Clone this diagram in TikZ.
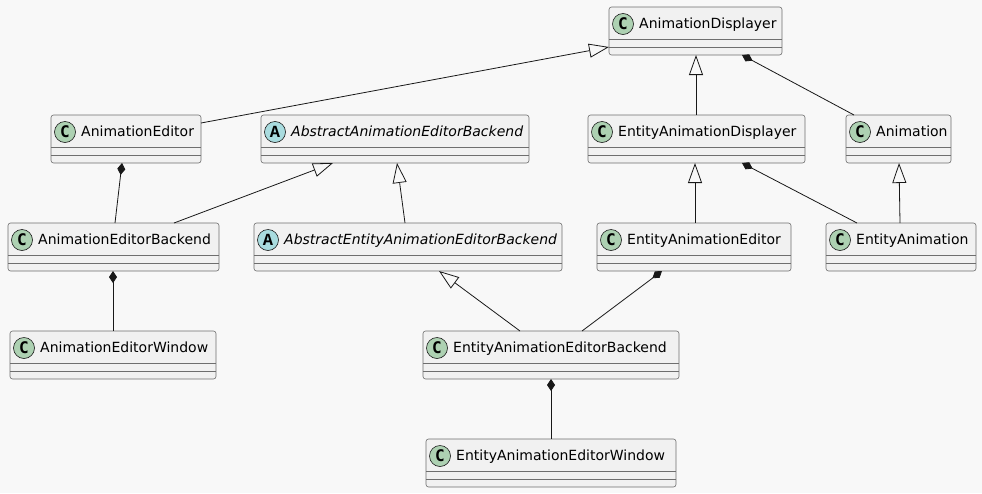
\documentclass[tikz,border=0pt]{standalone}
\usepackage{fontspec}
\setmainfont{DejaVu Sans}
\newfontfamily\cletterfont{DejaVu Sans Mono}
\newfontfamily\aletterfont{Liberation Mono}
\usetikzlibrary{arrows.meta,calc}
\definecolor{bgcol}{HTML}{F8F8F8}
\definecolor{boxfill}{HTML}{F1F1F1}
\definecolor{ink}{HTML}{181818}
\definecolor{frame}{HTML}{6E6E6E}
\definecolor{ccircle}{HTML}{ADD1B2}
\definecolor{acircle}{HTML}{A9DCDF}
\tikzset{
  clsbox/.style={draw=frame, fill=boxfill, line width=0.6pt, rounded corners=2.5pt,
    rectangle, anchor=north west, inner sep=0pt, outer sep=0pt, minimum height=48pt},
  sepline/.style={draw=frame, line width=0.6pt},
  cicon/.style={circle, draw=ink, line width=0.6pt, fill=ccircle, minimum size=21pt,
    inner sep=0pt, font=\cletterfont\bfseries\fontsize{16pt}{16pt}\selectfont},
  aicon/.style={circle, draw=ink, line width=0.6pt, fill=acircle, minimum size=21pt,
    inner sep=0pt, font=\aletterfont\bfseries\fontsize{17pt}{17pt}\selectfont},
  clsname/.style={anchor=base west, inner sep=0pt, text=black,
    font=\fontsize{14pt}{16pt}\selectfont},
  inh/.style={draw=ink, line width=0.8pt, -{Triangle[open,length=20pt,width=14pt]}},
  comp/.style={draw=ink, line width=0.8pt, {Diamond[length=12pt,width=8pt,fill=ink]}-},
}
\newcommand\umlclass[7]{%
  \node[clsbox, minimum width=#4pt] (#1) at (#2,#3) {};
  \draw[sepline] ([yshift=-32pt]#1.north west) -- ([yshift=-32pt]#1.north east);
  \draw[sepline] ([yshift=-40pt]#1.north west) -- ([yshift=-40pt]#1.north east);
  \node[#5] (#1-icon) at ([xshift=14pt,yshift=-17pt]#1.north west) {#6};
  \node[clsname] (#1-name) at ([xshift=30pt,yshift=-21.3pt]#1.north west) {#7};
}
\begin{document}
\begin{tikzpicture}[x=1pt,y=-1pt]
  \fill[bgcol] (0,0) rectangle (982,493);
  \useasboundingbox (0,0) rectangle (982,493);

  \umlclass{ad}{609}{7}{173}{cicon}{C}{AnimationDisplayer}
  \umlclass{ae}{51}{115}{150}{cicon}{C}{AnimationEditor}
  \umlclass{aaeb}{261}{115}{268}{aicon}{A}{\itshape AbstractAnimationEditorBackend}
  \umlclass{ead}{588}{115}{217}{cicon}{C}{EntityAnimationDisplayer}
  \umlclass{an}{846}{115}{105}{cicon}{C}{Animation}
  \umlclass{aeb}{8}{223}{211}{cicon}{C}{AnimationEditorBackend}
  \umlclass{aeaeb}{254}{223}{308}{aicon}{A}{\itshape AbstractEntityAnimationEditorBackend}
  \umlclass{eae}{597}{223}{194}{cicon}{C}{EntityAnimationEditor}
  \umlclass{ea}{826}{223}{150}{cicon}{C}{EntityAnimation}
  \umlclass{aew}{10}{331}{206}{cicon}{C}{AnimationEditorWindow}
  \umlclass{eaeb}{423}{331}{256}{cicon}{C}{EntityAnimationEditorBackend}
  \umlclass{eaew}{426}{439}{250}{cicon}{C}{EntityAnimationEditorWindow}

  % inheritance
  \draw[inh] ($(ae.north west)+(150,8)$) -- ($(ad.south west)+(0,-8)$);
  \draw[inh] ($(ead.north west)+(108,0)$) -- ($(ad.south west)+(87,0)$);
  \draw[inh] ($(aeb.north west)+(166,0)$) -- ($(aaeb.south west)+(72,0)$);
  \draw[inh] ($(aeaeb.north west)+(151,0)$) -- ($(aaeb.south west)+(136,0)$);
  \draw[inh] ($(eae.north west)+(98,0)$) -- ($(ead.south west)+(107,0)$);
  \draw[inh] ($(ea.north west)+(74,0)$) -- ($(an.south west)+(53,0)$);
  \draw[inh] ($(eaeb.north west)+(97,0)$) -- ($(aeaeb.south west)+(185,0)$);

  % composition
  \draw[comp] ($(ad.south west)+(133,0)$) -- ($(an.north west)+(8,0)$);
  \draw[comp] ($(ae.south west)+(71,0)$) -- ($(aeb.north west)+(107,0)$);
  \draw[comp] ($(ead.south west)+(154,0)$) -- ($(ea.north west)+(31,0)$);
  \draw[comp] ($(aeb.south west)+(105,0)$) -- ($(aew.north west)+(103,0)$);
  \draw[comp] ($(eae.south west)+(65,0)$) -- ($(eaeb.north west)+(159,0)$);
  \draw[comp] ($(eaeb.south west)+(128,0)$) -- ($(eaew.north west)+(125,0)$);
\end{tikzpicture}
\end{document}
